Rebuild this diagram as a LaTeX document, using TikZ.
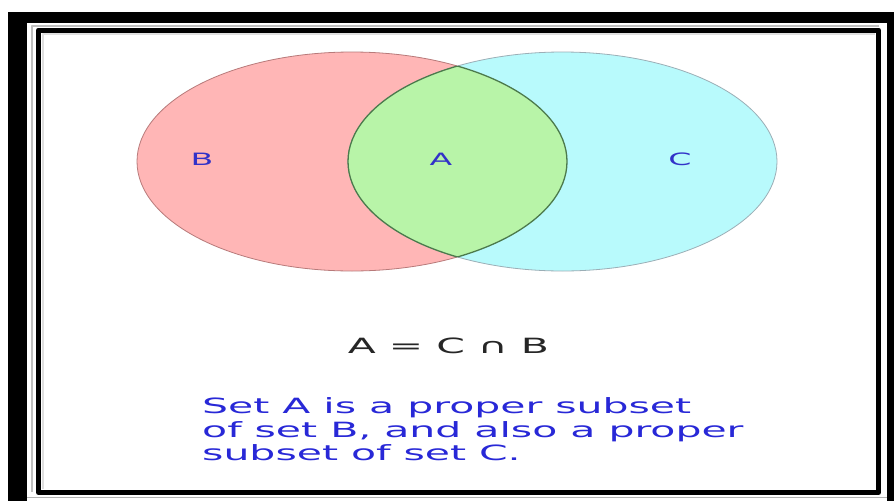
\documentclass[tikz,border=0pt]{standalone}
\usepackage{fontspec}
\newfontfamily\vennfont[FakeStretch=1.95]{DejaVu Sans}
\definecolor{setB}{RGB}{255,182,182}
\definecolor{setC}{RGB}{184,250,252}
\definecolor{setA}{RGB}{184,244,168}
\definecolor{labelblue}{RGB}{50,50,200}
\definecolor{noteblue}{RGB}{40,40,215}
\tikzset{
  setlabel/.style={font=\vennfont\fontsize{17}{20}\selectfont, text=labelblue, inner sep=0pt},
  notetext/.style={font=\vennfont\fontsize{21}{24}\selectfont, text=noteblue, inner sep=0pt, anchor=base west},
  lensline/.style={draw=black!55!green!40!gray, line width=1.3pt}
}
\begin{document}
\begin{tikzpicture}[x=1pt, y=-1pt, line join=round]
        \useasboundingbox (0,0) rectangle (894,501);
        \fill[white] (0,0) rectangle (894,501);
        % Cornice esterna
        \fill[black] (8,12) rectangle (894,501);
        \fill[white] (27,23) rectangle (887,501);
        \draw[gray!60, line width=1pt] (27,497.5) -- (887,497.5);
        % Cornice interna
        \draw[gray!50, line width=2pt] (32,492) |- (879,26);
        \draw[black, line width=5pt] (38.5,492.5) rectangle (878.5,30);
        \draw[gray!25, line width=2pt] (42.5,489) |- (875,33.5);
        % Insieme B
        \fill[setB] (352,161.5) ellipse [x radius=215, y radius=109.5];
        \draw[red!30!gray!80, line width=0.8pt] (352,161.5) ellipse [x radius=215, y radius=109.5];
        % Insieme C
        \fill[setC] (562.5,161.5) ellipse [x radius=214.5, y radius=109.5];
        \draw[cyan!20!gray!80, line width=0.8pt] (562.5,161.5) ellipse [x radius=214.5, y radius=109.5];
        % Intersezione A
        \begin{scope}
            \clip (352,161.5) ellipse [x radius=215, y radius=109.5];
            \fill[setA] (562.5,161.5) ellipse [x radius=214.5, y radius=109.5];
            \draw[lensline] (562.5,161.5) ellipse [x radius=214.5, y radius=109.5];
        \end{scope}
        \begin{scope}
            \clip (562.5,161.5) ellipse [x radius=214.5, y radius=109.5];
            \draw[lensline] (352,161.5) ellipse [x radius=215, y radius=109.5];
        \end{scope}
        % Etichette
        \node[setlabel] (labB) at (202,159) {B};
        \node[setlabel] (labA) at (441,159) {A};
        \node[setlabel] (labC) at (680,159) {C};
        % Formula
        \node[font=\vennfont\fontsize{21}{24}\selectfont, text=black!85, inner sep=0pt, anchor=base] (formula) at (448.5,353) {A = C ∩ B};
        % Testo
        \node[notetext] (note1) at (202,413) {Set A is a proper subset};
        \node[notetext] (note2) at (202,437) {of set B, and also a proper};
        \node[notetext] (note3) at (202,460.5) {subset of set C.};
    \end{tikzpicture}
\end{document}
